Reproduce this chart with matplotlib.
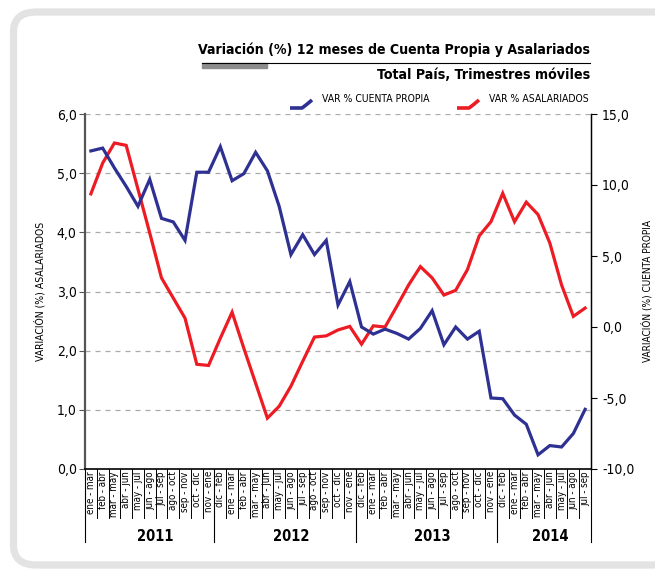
import matplotlib.pyplot as plt
from matplotlib.patches import FancyBboxPatch, Rectangle
from matplotlib.lines import Line2D
from matplotlib.ticker import FuncFormatter
from matplotlib import font_manager
import numpy as np

# trimestres moviles, ene-mar 2011 .. jul-sep 2014
periodos = ["ene - mar", "feb - abr", "mar - may", "abr - jun", "may - jul", "jun - ago",
            "jul - sep", "ago - oct", "sep - nov", "oct - dic", "nov - ene",
            "dic - feb", "ene - mar", "feb - abr", "mar - may", "abr - jun", "may - jul",
            "jun - ago", "jul - sep", "ago - oct", "sep - nov", "oct - dic", "nov - ene",
            "dic - feb", "ene - mar", "feb - abr", "mar - may", "abr - jun", "may - jul",
            "jun - ago", "jul - sep", "ago - oct", "sep - nov", "oct - dic", "nov - ene",
            "dic - feb", "ene - mar", "feb - abr", "mar - may", "abr - jun", "may - jul",
            "jun - ago", "jul - sep"]
anios = ["2011", "2012", "2013", "2014"]
n_por_anio = [11, 12, 12, 8]

# var % cuenta propia (eje derecho)
cuenta_propia = [12.4, 12.6, 11.2, 9.9, 8.5, 10.4, 7.65, 7.4, 6.1, 10.9, 10.9,
                 12.7, 10.3, 10.8, 12.3, 11.0, 8.5, 5.1, 6.5, 5.1, 6.1, 1.55, 3.2,
                 0.0, -0.5, -0.15, -0.45, -0.85, -0.1, 1.15, -1.25, 0.0, -0.85, -0.3,
                 -5.0, -5.05, -6.2, -6.85, -9.0, -8.35, -8.45, -7.5, -5.8]
# var % asalariados (eje izquierdo)
asalariados = [4.65, 5.17, 5.51, 5.47, 4.73, 3.99, 3.23, 2.89, 2.55, 1.77, 1.75,
               2.21, 2.65, 2.04, 1.45, 0.86, 1.06, 1.40, 1.82, 2.23, 2.25, 2.35, 2.41,
               2.11, 2.42, 2.40, 2.75, 3.11, 3.42, 3.23, 2.94, 3.02, 3.37, 3.94, 4.18,
               4.66, 4.18, 4.51, 4.30, 3.82, 3.11, 2.58, 2.72]

AZUL = "#2e3192"
ROJO = "#ed1c24"
nombres = {f.name for f in font_manager.fontManager.ttflist}
if "Liberation Sans Narrow" in nombres:
    plt.rcParams["font.family"] = ["Liberation Sans Narrow", "DejaVu Sans"]
else:
    plt.rcParams["font.family"] = ["DejaVu Sans"]
    plt.rcParams["font.stretch"] = "condensed"

fig = plt.figure(figsize=(6.55, 5.69), dpi=100)
W, H = 655, 569

# marco gris redondeado
fig.patches.append(FancyBboxPatch((13.5 / W, 1 - 565 / H), 700 / W, (565 - 12) / H,
                                  boxstyle="round,pad=0,rounding_size=0.035",
                                  transform=fig.transFigure, fill=False,
                                  edgecolor="#e3e3e3", linewidth=5.2, zorder=0))

ax = fig.add_axes([85 / W, 1 - 469 / H, 506 / W, 355 / H])
ax2 = ax.twinx()
x = np.arange(len(periodos))

ax.plot(x, asalariados, color=ROJO, lw=2.3, solid_joinstyle="miter", zorder=3)
ax2.plot(x, cuenta_propia, color=AZUL, lw=2.3, solid_joinstyle="miter", zorder=3)

ax.set_xlim(-0.5, len(periodos) - 0.5)
ax.set_ylim(0, 6)
ax2.set_ylim(-10, 15)
ax.set_yticks(np.arange(0, 7, 1))
ax2.set_yticks(np.arange(-10, 16, 5))
fmt = FuncFormatter(lambda v, p: f"{v:.1f}".replace(".", ","))
ax.yaxis.set_major_formatter(fmt)
ax2.yaxis.set_major_formatter(fmt)
ax.tick_params(axis="y", labelsize=10, length=4, width=0.8, color="#555555", pad=2)
ax2.tick_params(axis="y", labelsize=10, length=4, width=0.8, pad=4)
ax.set_xticks([])

for v in range(1, 7):
    ax.axhline(v, color="#aaaaaa", lw=0.9, ls=(0, (4, 4)), zorder=1)

ax.spines["top"].set_visible(False)
ax2.spines["top"].set_visible(False)
ax.spines["left"].set_color("#555555")
ax.spines["left"].set_linewidth(1.6)
ax2.spines["left"].set_visible(False)
ax.spines["bottom"].set_linewidth(1.2)
ax2.spines["bottom"].set_visible(False)
ax2.spines["right"].set_linewidth(1.0)

ax.set_ylabel("VARIACIÓN (%) ASALARIADOS", fontsize=7.5, labelpad=8)
ax2.set_ylabel("VARIACIÓN (%) CUENTA PROPIA", fontsize=7.2, labelpad=5)

# etiquetas del eje x
tr = ax.get_xaxis_transform()
for i, lab in enumerate(periodos):
    ax.text(i, -0.006, lab, rotation=90, ha="center", va="top", fontsize=7,
            transform=tr, clip_on=False)
for b in np.arange(len(periodos) + 1) - 0.5:
    ax.plot([b, b], [0, -0.138], color="black", lw=0.7, transform=tr, clip_on=False)
inicio = 0
for anio, n in zip(anios, n_por_anio):
    ax.plot([inicio - 0.5, inicio - 0.5], [0, -0.206], color="black", lw=0.8,
            transform=tr, clip_on=False)
    ax.text(inicio + n / 2, -0.19, anio, ha="center", va="center", fontsize=10.5,
            fontweight="bold", transform=tr, clip_on=False)
    inicio += n
ax.plot([inicio - 0.5, inicio - 0.5], [0, -0.206], color="black", lw=0.8,
        transform=tr, clip_on=False)

# titulos
fig.text(590 / W, 1 - 50 / H, "Variación (%) 12 meses de Cuenta Propia y Asalariados",
         ha="right", va="center", fontsize=10.1, fontweight="bold")
fig.add_artist(Line2D([202 / W, 590 / W], [1 - 62.5 / H] * 2, color="black", lw=0.8))
fig.patches.append(Rectangle((202 / W, 1 - 68 / H), 65 / W, 5 / H, color="#8c8c8c",
                             transform=fig.transFigure))
fig.text(590 / W, 1 - 75 / H, "Total País, Trimestres móviles",
         ha="right", va="center", fontsize=10.2, fontweight="bold")

# leyenda
for x0, col, txt in [(290, AZUL, "VAR % CUENTA PROPIA"), (457, ROJO, "VAR % ASALARIADOS")]:
    xs = np.array([x0, x0 + 12, x0 + 16, x0 + 22]) / W
    ys = 1 - np.array([108, 108, 105, 100]) / H
    fig.add_artist(Line2D(xs, ys, color=col, lw=2.6, solid_capstyle="butt"))
    fig.text((x0 + 32) / W, 1 - 99 / H, txt, ha="left", va="center", fontsize=7.5)

plt.savefig("out.png", dpi=100)
